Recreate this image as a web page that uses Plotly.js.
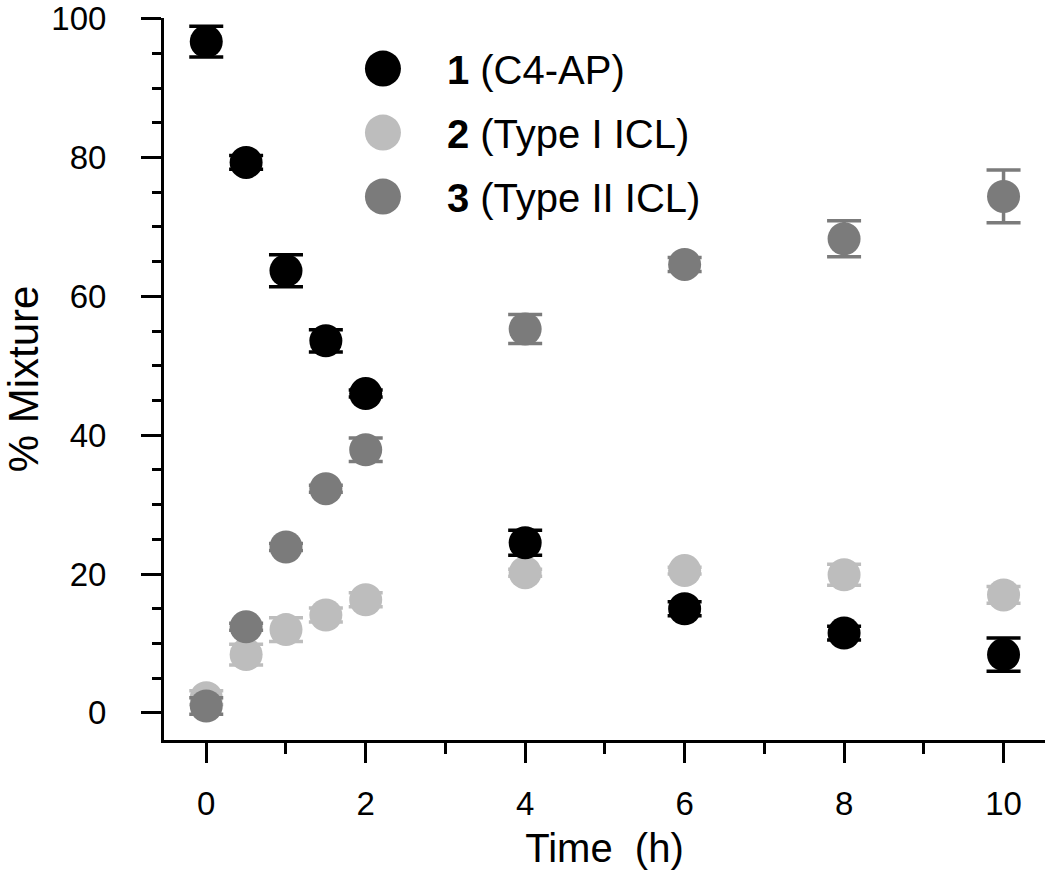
<!DOCTYPE html>
<html>
<head>
<meta charset="utf-8">
<script src="https://cdn.plot.ly/plotly-3.0.1.min.js"></script>
<style>html,body{margin:0;padding:0;background:#fff;}</style>
</head>
<body>
<div id="chart" style="width:1050px;height:878px;"></div>
<script>
const time = [0, 0.5, 1, 1.5, 2, 4, 6, 8, 10];

const c4ap      = [96.7, 79.3, 63.7, 53.6, 46.0, 24.5, 15.0, 11.5, 8.4];
const c4apErr   = [2.2, 1.0, 2.3, 1.6, 0.5, 1.8, 1.0, 1.0, 2.4];

const type1     = [2.2, 8.4, 12.0, 14.1, 16.3, 20.2, 20.5, 19.9, 17.0];
const type1Err  = [1.0, 1.5, 1.7, 1.0, 1.0, 0.5, 0.5, 1.5, 1.2];

const type2     = [1.0, 12.4, 23.9, 32.3, 37.9, 55.3, 64.6, 68.3, 74.4];
const type2Err  = [1.2, 0.5, 0.5, 0.5, 1.7, 2.1, 1.0, 2.6, 3.8];

const names = ['<b>1</b> (C4-AP)', '<b>2</b> (Type I ICL)', '<b>3</b> (Type II ICL)'];
const colors = ['#000000', '#bdbdbd', '#7b7b7b'];

function tr(y, err, name, color, rank, grp) {
  return {
    x: time, y: y, name: name, type: 'scatter', mode: 'markers',
    legendrank: rank, legendgroup: grp,
    marker: {size: 33, color: color, line: {width: 0}},
    error_y: {type: 'data', array: err, visible: true, color: color, thickness: 3.5, width: 17}
  };
}

const data = [
  tr(type1, type1Err, names[1], colors[1], 2, 'g2'),
  tr(type2, type2Err, names[2], colors[2], 3, 'g3'),
  tr(c4ap, c4apErr, names[0], colors[0], 1, 'g1')
];

const font = 'Liberation Sans, Arial, sans-serif';
const layout = {
  width: 1050, height: 878,
  margin: {l: 164, r: 5, t: 18, b: 138},
  paper_bgcolor: '#fff', plot_bgcolor: '#fff',
  font: {family: font, color: '#000', size: 33},
  showlegend: true,
  legend: {x: 0.219, y: 0.975, xanchor: 'left', yanchor: 'top', font: {size: 40, family: font},
           bgcolor: 'rgba(0,0,0,0)', tracegroupgap: 9, itemwidth: 80},
  xaxis: {
    range: [-0.53, 10.52], showgrid: false, zeroline: false,
    showline: true, linecolor: '#000', linewidth: 3,
    ticks: 'outside', ticklen: 20, tickwidth: 3, tickcolor: '#000',
    tickmode: 'array', tickvals: [0, 2, 4, 6, 8, 10], ticktext: ['0', '2', '4', '6', '8', '10'],
    minor: {tickvals: [1, 3, 5, 7, 9], ticks: 'outside', ticklen: 11, tickwidth: 3, tickcolor: '#000'},
    tickfont: {size: 33}, ticklabelstandoff: 12,
    title: {text: 'Time\u00a0\u00a0(h)', font: {size: 40}, standoff: 14}
  },
  yaxis: {
    range: [-3.9, 100.1], showgrid: false, zeroline: false,
    showline: true, linecolor: '#000', linewidth: 3,
    ticks: 'outside', ticklen: 20, tickwidth: 3, tickcolor: '#000',
    tickmode: 'array', tickvals: [0, 20, 40, 60, 80, 100],
    minor: {dtick: 5, ticks: 'outside', ticklen: 9, tickwidth: 3, tickcolor: '#000'},
    tickfont: {size: 33}, ticklabelstandoff: 28,
    title: {text: '\u00a0\u00a0% Mixture', font: {size: 42}, standoff: 10}
  }
};

Plotly.newPlot('chart', data, layout, {displayModeBar: false, staticPlot: true}).then(function () {
  document.querySelectorAll('.legendpoints path.scatterpts').forEach(function (p) {
    p.style.transform = 'translate(26px,0px) scale(2.25)';
  });
});
</script>
</body>
</html>
